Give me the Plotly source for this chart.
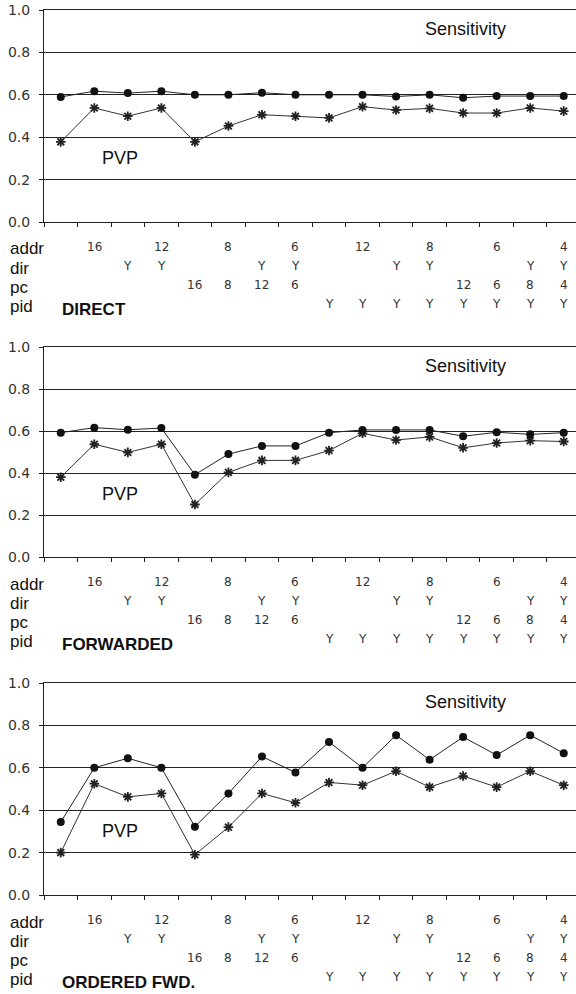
import plotly.graph_objects as go

# ---- data ----
x_idx = list(range(16))
panel_names = ["DIRECT", "FORWARDED", "ORDERED FWD."]
sens_direct = [0.59, 0.617, 0.608, 0.617, 0.60, 0.60, 0.61, 0.60, 0.60, 0.60, 0.592, 0.60, 0.586, 0.594, 0.594, 0.594]
pvp_direct = [0.378, 0.538, 0.499, 0.538, 0.378, 0.453, 0.506, 0.499, 0.491, 0.544, 0.528, 0.536, 0.514, 0.514, 0.538, 0.523]
sens_fwd = [0.592, 0.616, 0.606, 0.614, 0.392, 0.49, 0.529, 0.529, 0.592, 0.605, 0.605, 0.605, 0.575, 0.594, 0.584, 0.592]
pvp_fwd = [0.38, 0.537, 0.498, 0.537, 0.25, 0.403, 0.46, 0.46, 0.507, 0.589, 0.557, 0.572, 0.52, 0.543, 0.554, 0.55]
sens_ord = [0.344, 0.60, 0.645, 0.60, 0.322, 0.479, 0.653, 0.578, 0.722, 0.60, 0.754, 0.638, 0.745, 0.66, 0.754, 0.669]
pvp_ord = [0.20, 0.525, 0.463, 0.479, 0.19, 0.32, 0.479, 0.435, 0.531, 0.518, 0.584, 0.509, 0.561, 0.509, 0.584, 0.518]

row_names = ["addr", "dir", "pc", "pid"]
addr_row = ["", "16", "", "12", "", "8", "", "6", "", "12", "", "8", "", "6", "", "4"]
dir_row = ["", "", "Y", "Y", "", "", "Y", "Y", "", "", "Y", "Y", "", "", "Y", "Y"]
pc_row = ["", "", "", "", "16", "8", "12", "6", "", "", "", "", "12", "6", "8", "4"]
pid_row = ["", "", "", "", "", "", "", "", "Y", "Y", "Y", "Y", "Y", "Y", "Y", "Y"]
y_ticks = [0.0, 0.2, 0.4, 0.6, 0.8, 1.0]
y_tick_text = ["0.0", "0.2", "0.4", "0.6", "0.8", "1.0"]

series = [(sens_direct, pvp_direct), (sens_fwd, pvp_fwd), (sens_ord, pvp_ord)]
rows = [addr_row, dir_row, pc_row, pid_row]

# ---- layout geometry (pixels) ----
W, H = 576, 994
panel_px = [(10, 222), (347, 557), (683, 895)]  # top, bottom
x_left_px = 44
cat_w = 33.53
x_max = -0.5 + (W - x_left_px) / cat_w

LABEL_FONT = "Liberation Sans, Arial, sans-serif"
NUM_FONT = "DejaVu Sans, sans-serif"

fig = go.Figure()
annotations = []

for p, ((sens, pvp), (top, bot)) in enumerate(zip(series, panel_px)):
    n = "" if p == 0 else str(p + 1)
    xa = "x" + n
    ya = "y" + n
    fig.add_trace(go.Scatter(
        x=x_idx, y=pvp, xaxis=xa, yaxis=ya, mode="lines+markers",
        line=dict(color="#333333", width=1),
        marker=dict(symbol="asterisk-open", size=8, color="#222222",
                    line=dict(color="#222222", width=1.8)),
        showlegend=False))
    fig.add_trace(go.Scatter(
        x=x_idx, y=sens, xaxis=xa, yaxis=ya, mode="lines+markers",
        line=dict(color="#222222", width=1),
        marker=dict(symbol="circle", size=8, color="#111111"),
        showlegend=False))

    dom = [1 - bot / H, 1 - top / H]
    fig.update_layout(**{
        ("xaxis" + n): dict(
            domain=[x_left_px / W, 1], range=[-0.5, x_max], anchor=ya,
            tickmode="array", tickvals=[i - 0.5 for i in range(17)],
            showticklabels=False, ticks="outside", ticklen=4, tickwidth=1,
            tickcolor="#222", showline=True, linecolor="#222", linewidth=1,
            mirror=True, showgrid=False, zeroline=False, automargin=False,
            fixedrange=True),
        ("yaxis" + n): dict(
            domain=dom, range=[0, 1], anchor=xa,
            tickmode="array", tickvals=y_ticks, ticktext=y_tick_text,
            ticks="outside", ticklen=4, tickcolor="#222",
            showline=True, linecolor="#222", linewidth=1,
            showgrid=True, gridcolor="#222", gridwidth=1, zeroline=False,
            tickfont=dict(family=NUM_FONT, size=14, color="#333"),
            ticklabelstandoff=6, automargin=False, fixedrange=True),
    })

    # in-plot labels
    annotations.append(dict(x=12.07, y=0.91, xref=xa, yref=ya, text="Sensitivity",
                            showarrow=False, font=dict(family=LABEL_FONT, size=18, color="#111")))
    annotations.append(dict(x=1.78, y=0.30, xref=xa, yref=ya, text="PVP",
                            showarrow=False, font=dict(family=LABEL_FONT, size=18, color="#111")))

    # table below
    for r, (rname, rvals) in enumerate(zip(row_names, rows)):
        py = bot + 27 + 19 * r
        annotations.append(dict(x=8 / W, y=1 - py / H, xref="paper", yref="paper",
                                text=rname, showarrow=False, xanchor="left", yanchor="middle",
                                font=dict(family=LABEL_FONT, size=17, color="#111")))
        for i, v in enumerate(rvals):
            if v:
                annotations.append(dict(x=i, y=1 - (py - 2) / H, xref=xa, yref="paper",
                                        text=v, showarrow=False, yanchor="middle",
                                        font=dict(family=NUM_FONT, size=12, color="#333")))
    py = bot + 27 + 19 * 3 + 3
    annotations.append(dict(x=60 / W, y=1 - py / H, xref="paper", yref="paper",
                            text="<b>" + panel_names[p] + "</b>", showarrow=False,
                            xanchor="left", yanchor="middle",
                            font=dict(family=LABEL_FONT, size=17, color="#111")))

fig.update_layout(
    width=W, height=H, margin=dict(l=0, r=0, t=0, b=0),
    paper_bgcolor="white", plot_bgcolor="white",
    template="none", annotations=annotations, showlegend=False)

fig.write_html("out.html", config={"displayModeBar": False},
               post_script="document.body.style.margin='0px';document.body.style.overflow='hidden';")
